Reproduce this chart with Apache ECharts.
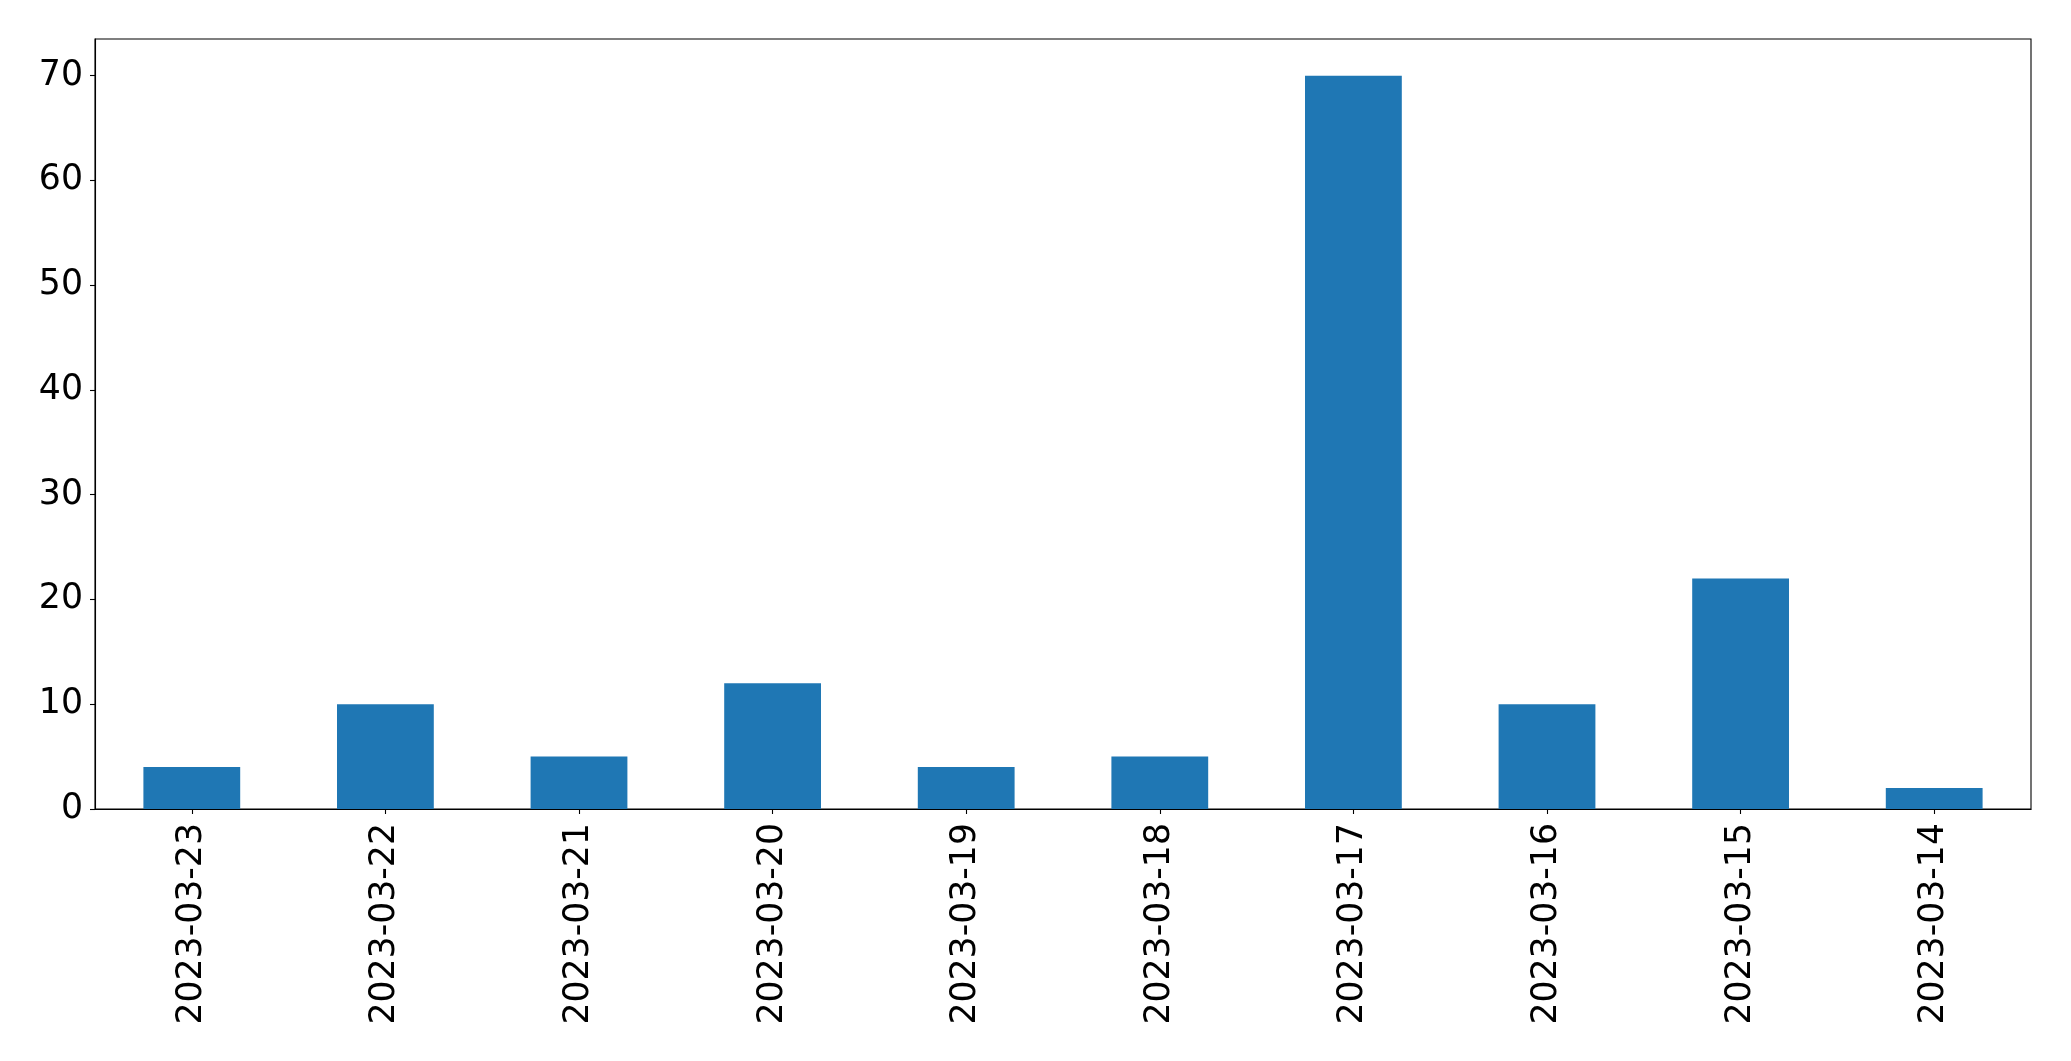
<!DOCTYPE html>
<html>
<head>
<meta charset="utf-8">
<script src="https://cdn.jsdelivr.net/npm/echarts@6/dist/echarts.min.js"></script>
<style>
html,body{margin:0;padding:0;background:#fff;}
#chart{width:2071px;height:1061px;}
</style>
</head>
<body>
<div id="chart"></div>
<script>
const categories = ["2023-03-23","2023-03-22","2023-03-21","2023-03-20","2023-03-19","2023-03-18","2023-03-17","2023-03-16","2023-03-15","2023-03-14"];
const values = [4, 10, 5, 12, 4, 5, 70, 10, 22, 2];
const yTicks = [0, 10, 20, 30, 40, 50, 60, 70];

const chart = echarts.init(document.getElementById('chart'), null, {renderer: 'canvas'});
const font = 'DejaVu Sans';
chart.setOption({
  backgroundColor: '#fff',
  animation: false,
  grid: {left: 95, top: 39, right: 40, bottom: 252, show: true, borderColor: '#000', borderWidth: 1.1, backgroundColor: 'transparent'},
  xAxis: {
    type: 'category',
    data: categories,
    boundaryGap: true,
    axisLine: {show: true, lineStyle: {color: '#000', width: 1.1}},
    axisTick: {show: true, alignWithLabel: true, length: 5, lineStyle: {color: '#000', width: 1.1}},
    axisLabel: {rotate: 90, color: '#000', fontFamily: font, fontSize: 34.7, margin: 14, interval: 0},
    splitLine: {show: false}
  },
  yAxis: {
    type: 'value',
    min: 0,
    max: 73.5,
    interval: 10,
    axisLine: {show: true, lineStyle: {color: '#000', width: 1.1}},
    axisTick: {show: true, length: 5, customValues: yTicks, lineStyle: {color: '#000', width: 1.1}},
    axisLabel: {color: '#000', fontFamily: font, fontSize: 34.7, margin: 12, customValues: yTicks},
    splitLine: {show: false}
  },
  series: [{
    type: 'bar',
    data: values,
    barWidth: '50%',
    itemStyle: {color: '#1f77b4'}
  }]
});
</script>
</body>
</html>
